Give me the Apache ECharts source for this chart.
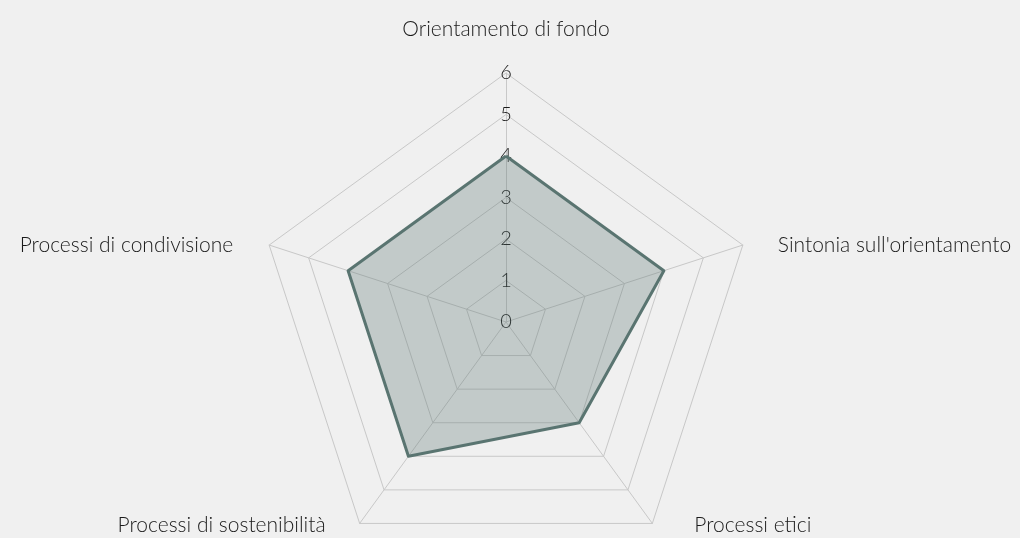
<!DOCTYPE html>
<html>
<head>
<meta charset="utf-8">
<script src="https://cdn.jsdelivr.net/npm/echarts@6/dist/echarts.min.js"></script>
<style>
html,body{margin:0;padding:0;background:#f0f0f0;}
#chart{width:1020px;height:538px;}
</style>
</head>
<body>
<div id="chart"></div>
<script>
// Indicators listed clockwise starting from the top
const indicatorNames = ['Orientamento di fondo', "Sintonia sull'orientamento", 'Processi etici', 'Processi di sostenibilità', 'Processi di condivisione'];
const indicatorMax = 6;
const seriesValues = [4, 4, 3, 4, 4];
const tickLabels = ['0', '1', '2', '3', '4', '5', '6'];

const FONT = 'Lato';
// per-name label offsets (clockwise order)
const namePadding = [
  [0, 0, 23, 0],
  [0, 0, 0, 35],
  [4, 0, 0, 42],
  [4, 34, 0, 0],
  [0, 36, 0, 0]
];
const rich = {};
namePadding.forEach((p, i) => {
  rich['n' + i] = { fontFamily: FONT, fontSize: 21, fontWeight: 300, color: '#1a1a1a', lineHeight: 24, padding: p };
});

// ECharts radar runs counter-clockwise: keep the first, reverse the rest
const order = [0].concat(indicatorNames.map((_, i) => i).slice(1).reverse());

const chart = echarts.init(document.getElementById('chart'));
chart.setOption({
  backgroundColor: '#f0f0f0',
  animation: false,
  radar: {
    center: [506, 322],
    radius: 249,
    startAngle: 90,
    splitNumber: 6,
    shape: 'polygon',
    nameGap: 0,
    axisName: {
      formatter: function (name) {
        const i = indicatorNames.indexOf(name);
        return '{n' + i + '|' + name + '}';
      },
      rich: rich
    },
    indicator: order.map((idx, k) => {
      const o = { name: indicatorNames[idx], min: 0, max: indicatorMax };
      if (k === 0) {
        o.axisLabel = {
          show: true, margin: 0, align: 'center', verticalAlign: 'middle',
          fontFamily: FONT, fontSize: 20, fontWeight: 300, color: '#1a1a1a',
          formatter: v => tickLabels[Math.round(v)] !== undefined ? tickLabels[Math.round(v)] : ''
        };
      }
      return o;
    }),
    axisLabel: { show: false },
    axisTick: { show: false },
    axisLine: { lineStyle: { color: '#c8c8c8', width: 1 } },
    splitLine: { lineStyle: { color: '#c8c8c8', width: 1 } },
    splitArea: { show: false }
  },
  series: [{
    type: 'radar',
    symbol: 'none',
    lineStyle: { color: '#5a7571', width: 3 },
    areaStyle: { color: '#5a7571', opacity: 0.3 },
    data: [{ value: order.map(idx => seriesValues[idx]) }]
  }]
});
</script>
</body>
</html>
